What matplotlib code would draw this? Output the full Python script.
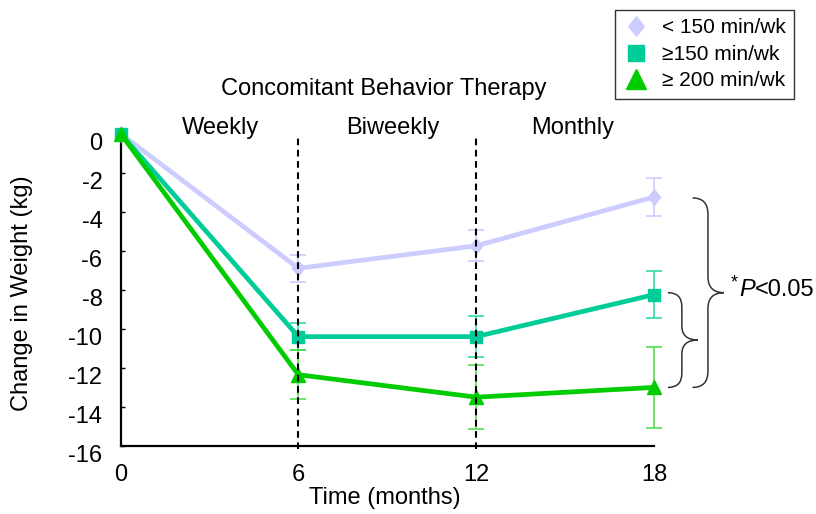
import numpy as np
import matplotlib
matplotlib.use("Agg")
import matplotlib.pyplot as plt
from matplotlib.path import Path
from matplotlib.patches import PathPatch
from matplotlib.lines import Line2D
from matplotlib.transforms import ScaledTranslation

plt.rcParams['font.family'] = ['Liberation Sans', 'DejaVu Sans']
plt.rcParams['axes.unicode_minus'] = False

# ---------------- data ----------------
months = [0, 6, 12, 18]
lt150 = [0.0, -6.9, -5.75, -3.25]
lt150_err = [0.0, 0.7, 0.8, 0.95]
ge150 = [0.0, -10.4, -10.4, -8.25]
ge150_err = [0.0, 0.68, 1.05, 1.22]
ge200 = [0.0, -12.35, -13.5, -13.0]
ge200_err = [0.0, 1.25, 1.65, 2.08]
series_labels = ["< 150 min/wk", "\u2265150 min/wk", "\u2265 200 min/wk"]
phase_names = ["Weekly", "Biweekly", "Monthly"]
phase_bounds = [6, 12]
yticks = list(range(0, -17, -2))
xticks = [0, 6, 12, 18]

# ---------------- figure ----------------
W, H = 816, 514
fig = plt.figure(figsize=(W / 100, H / 100), dpi=100)
ax = fig.add_axes([120.5 / W, 68 / H, 533.5 / W, 312.5 / H])
ax.set_xlim(0, 18)
ax.set_ylim(-16, 0)

for s in ['top', 'right']:
    ax.spines[s].set_visible(False)
for s in ['left', 'bottom']:
    ax.spines[s].set_linewidth(1.6)
    ax.spines[s].set_color('black')

ax.set_xticks(xticks)
ax.set_xticklabels([str(v) for v in xticks])
ax.set_yticks(yticks)
ax.set_yticklabels([str(v) for v in yticks])
ax.tick_params(axis='x', length=0, pad=13, labelsize=17)
ax.tick_params(axis='y', direction='in', length=3, width=1, pad=13, labelsize=17)
off = ScaledTranslation(0, -8 / 100, fig.dpi_scale_trans)
for lab in ax.get_yticklabels():
    lab.set_transform(lab.get_transform() + off)

diamond = [(0, 1), (0.8, 0), (0, -1), (-0.8, 0), (0, 1)]
styles = [
    dict(vals=lt150, err=lt150_err, color='#ccccff', ecolor='#c8c8ff',
         marker=diamond, ms=11, lms=14, z=3),
    dict(vals=ge150, err=ge150_err, color='#00cc99', ecolor='#22d4a4',
         marker='s', ms=8.5, lms=12, z=4),
    dict(vals=ge200, err=ge200_err, color='#00cc00', ecolor='#44dd44',
         marker='^', ms=10, lms=14, z=5),
]

handles = []
for st, lab in zip(styles, series_labels):
    ax.errorbar(months[1:], st['vals'][1:], yerr=st['err'][1:], fmt='none',
                ecolor=st['ecolor'], elinewidth=1.1, capsize=5.5, capthick=1.1,
                zorder=2, clip_on=False)
    ax.plot(months, st['vals'], color=st['color'], lw=3.4, marker=st['marker'],
            ms=st['ms'], mec=st['color'], mfc=st['color'], clip_on=False,
            zorder=st['z'])
    handles.append(Line2D([], [], ls='none', marker=st['marker'], ms=st['lms'],
                          color=st['color'], mec=st['color']))

for xb in phase_bounds:
    ax.axvline(xb, ymin=-0.01, ymax=1.0, color='black', lw=1.5,
               ls=(0, (3.2, 2.2)), zorder=6, clip_on=False)

# text annotations
fig.text(384 / W, 1 - 89.5 / H, "Concomitant Behavior Therapy", ha='center',
         va='center', fontsize=17)
for name, px in zip(phase_names, [220.5, 392.5, 572.5]):
    fig.text(px / W, 1 - 128 / H, name, ha='center', va='center', fontsize=17)
fig.text(385 / W, 1 - 498 / H, "Time (months)", ha='center', va='center',
         fontsize=17)
fig.text(22 / W, 1 - 293 / H, "Change in Weight (kg)", ha='center',
         va='center', rotation=90, fontsize=17)


# braces
def brace(x0, xs, xt, ytop, ybot, r):
    ymid = (ytop + ybot) / 2
    verts = [(x0, ytop), (xs, ytop), (xs, ytop - r),
             (xs, ymid + r), (xs, ymid), (xt, ymid),
             (xs, ymid), (xs, ymid - r),
             (xs, ybot + r), (xs, ybot), (x0, ybot)]
    codes = [Path.MOVETO, Path.CURVE3, Path.CURVE3,
             Path.LINETO, Path.CURVE3, Path.CURVE3,
             Path.CURVE3, Path.CURVE3,
             Path.LINETO, Path.CURVE3, Path.CURVE3]
    p = PathPatch(Path(verts, codes), fill=False, edgecolor='#333333', lw=1.1,
                  clip_on=False, zorder=7)
    ax.add_patch(p)


brace(19.3, 19.82, 20.36, lt150[-1] - 0.05, ge200[-1], 0.82)
brace(18.47, 18.94, 19.48, ge150[-1] + 0.1, ge200[-1], 0.72)

star = fig.text(734.5 / W, 1 - 283 / H, "*", ha='center', va='center',
                fontsize=13)
ptxt = fig.text(739 / W, 1 - 289 / H, "P", ha='left', va='center',
                fontsize=17, fontstyle='italic')
fig.canvas.draw()
ax.annotate("<0.05", xy=(1, 0), xycoords=ptxt, ha='left', va='bottom',
            fontsize=17, annotation_clip=False)

leg = fig.legend(handles, series_labels, loc='upper right',
                 bbox_to_anchor=(794 / W, 1 - 10 / H), borderaxespad=0,
                 fontsize=15, frameon=True, fancybox=False, handlelength=1.25,
                 handletextpad=0.6, borderpad=0.4, labelspacing=0.36,
                 edgecolor='black')
leg.get_frame().set_linewidth(1.0)

fig.savefig("out.png", dpi=100)
